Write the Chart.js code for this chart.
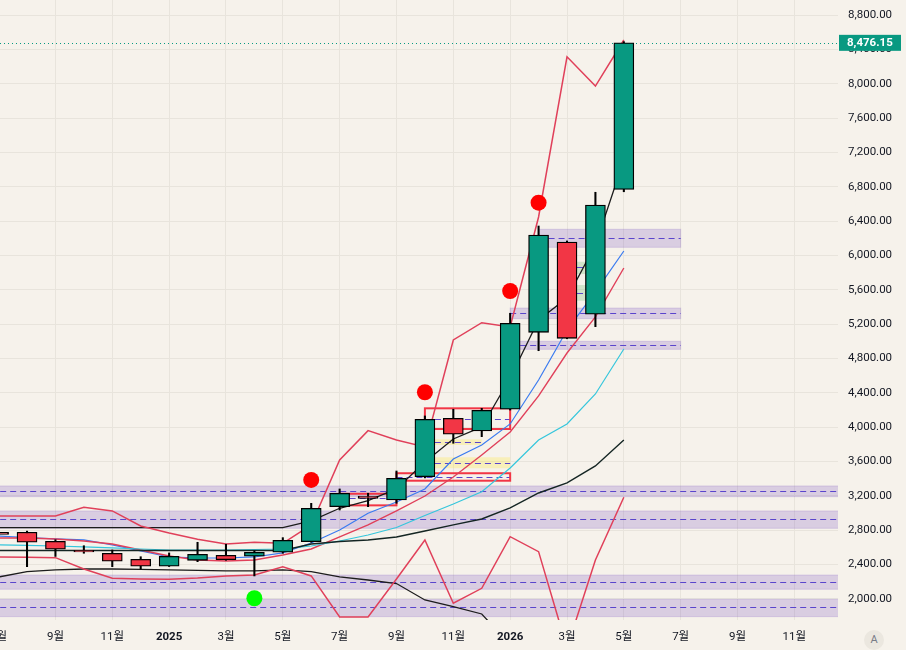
<!DOCTYPE html>
<html><head><meta charset="utf-8">
<script src="https://cdn.jsdelivr.net/npm/chart.js@4.4.1/dist/chart.umd.min.js"></script>
<style>
html,body{margin:0;padding:0;background:#f6f2eb;}
#wrap{position:relative;width:906px;height:650px;overflow:hidden;}
#autoBtn{position:absolute;left:864px;top:630px;width:20px;height:20px;border-radius:10px;background:#ebe7df;color:#787b86;font:11px Roboto, sans-serif;text-align:center;line-height:20px;}
</style></head>
<body><div id="wrap"><canvas id="c" width="906" height="650"></canvas><div id="autoBtn">A</div></div>
<script>
// month index 0 = 2024-07 ... 22 = 2026-05
const tickMonths = [0,2,4,6,8,10,12,14,16,18,20,22,24,26,28];
const tickLabels = ['7월','9월','11월','2025','3월','5월','7월','9월','11월','2026','3월','5월','7월','9월','11월'];
const yTicks = [2000,2400,2800,3200,3600,4000,4400,4800,5200,5600,6000,6400,6800,7200,7600,8000,8400,8800];

const opens  = [2777,2777,2672,2566,2532,2462,2381,2450,2509,2497,2544,2667,3075,3199,3153,3424,4104,3956,4209,5105,6157,5315,6770];
const highs  = [2880,2790,2690,2620,2570,2492,2536,2660,2637,2562,2714,3114,3281,3231,3490,4131,4209,4220,5327,6343,6169,6736,8490];
const lows   = [2730,2376,2495,2532,2376,2349,2378,2434,2450,2268,2532,2660,3036,3075,3114,3410,3813,3890,4200,4891,5030,5171,6742];
const closes = [2753,2662,2579,2548,2439,2381,2497,2520,2457,2544,2683,3056,3231,3172,3405,4092,3918,4197,5210,6238,5035,6588,8476.15];

const fastLine   = [2830,2830,2830,2830,2830,2830,2830,2830,2830,2830,2830,2910,3056,3146,3281,3595,3863,4003,4573,5249,5505,6122,7112];
const blueLine   = [2733,2716,2699,2687,2629,2559,2489,2477,2477,2489,2536,2652,2803,2998,3129,3281,3630,3793,4038,4550,5132,5575,6052];
const redMaLine  = [2710,2710,2699,2675,2640,2570,2501,2454,2442,2454,2512,2582,2722,2862,3025,3199,3420,3677,3944,4364,4864,5284,5854];
const cyanLine   = [2629,2623,2617,2606,2594,2582,2570,2570,2570,2576,2582,2617,2675,2745,2832,2972,3106,3249,3525,3851,4038,4387,4911];
const slowLine   = [2565,2565,2565,2565,2565,2565,2565,2565,2565,2565,2565,2640,2669,2687,2722,2792,2862,2931,3060,3234,3351,3549,3851];
const upperBand  = [2966,2966,2966,3068,3025,2850,2768,2695,2640,2660,2648,2862,3618,3960,3852,3770,5016,5217,5167,6448,8314,7973,8509];
const lowerBand  = [2489,2485,2481,2349,2241,2233,2229,2244,2268,2279,2376,2268,1790,1790,2233,2687,1950,2124,2725,2551,1429,2454,3184];
const bottomLine = [2256,2318,2338,2349,2349,2344,2338,2332,2326,2326,2338,2318,2256,2221,2180,1988,1910,1825,1464];

const sellMonths = [11,15,18,19];
const sellValues = [3386,4407,5586,6615];
const buyMonths  = [9];
const buyValues  = [2008];

const zoneKind = ['sr','sr','sr','sr','sr','sr','sr','box','box','box','yellow','yellow','green','green'];
const zoneFrom = [-1,-1,-1,-1,19,18,18,15,14,12,15,15,20,20];
const zoneTo   = [31,31,31,31,24,24,24,18,18,14,17,18,21,21];
const zoneLow  = [3191,2823,2113,1794,6095,5264,4907,3979,3377,3090,3793,3522,5784,5473];
const zoneHigh = [3316,3025,2279,1996,6305,5388,5001,4220,3464,3225,3859,3650,5927,5656];
const zoneMid  = [3257,2931,2198,1907,6200,5326,4954,4092,3417,3180,3824,3587,5862,5560];

const BG = '#f6f2eb';
const UP = '#089981', DOWN = '#f23645', LINE_RED = '#e0405a';
const zoneStyles = {
  sr:     {fill:'rgba(126,87,194,0.24)', stroke:'rgba(126,87,194,0.2)', lw:1},
  box:    {fill:'rgba(242,54,69,0.0)',   stroke:'#f23645', lw:2},
  yellow: {fill:'rgba(255,235,59,0.28)', stroke:null, lw:0},
  green:  {fill:'rgba(76,175,80,0.22)',  stroke:null, lw:0}
};

Chart.defaults.font.family = "Roboto, 'Noto Sans CJK KR', sans-serif";

const pts = arr => arr.map((v,i)=>({x:i,y:v}));

const bgPlugin = {
  id:'bg',
  beforeDraw(chart){ const c=chart.ctx; c.save(); c.fillStyle=BG; c.fillRect(0,0,chart.width,chart.height); c.restore(); }
};

const zonePlugin = {
  id:'zones',
  beforeDatasetsDraw(chart){
    const {ctx, chartArea:a, scales:{x,y}} = chart;
    ctx.save();
    ctx.beginPath(); ctx.rect(a.left,a.top,a.right-a.left,a.bottom-a.top); ctx.clip();
    for(let k=0;k<zoneKind.length;k++){
      const st = zoneStyles[zoneKind[k]];
      const x0 = x.getPixelForValue(zoneFrom[k]), x1 = x.getPixelForValue(zoneTo[k]);
      const y0 = y.getPixelForValue(zoneHigh[k]), y1 = y.getPixelForValue(zoneLow[k]);
      ctx.fillStyle = st.fill; ctx.fillRect(x0,y0,x1-x0,y1-y0);
      const ym = Math.round(y.getPixelForValue(zoneMid[k]))+0.5;
      ctx.setLineDash([6,4]); ctx.strokeStyle='#5a45cc'; ctx.lineWidth=1.2;
      ctx.beginPath(); ctx.moveTo(x0,ym); ctx.lineTo(x1,ym); ctx.stroke();
      ctx.setLineDash([]);
      if(st.stroke){ ctx.strokeStyle=st.stroke; ctx.lineWidth=st.lw; ctx.strokeRect(x0,y0,x1-x0,y1-y0); }
    }
    const last = closes[closes.length-1];
    const yp = Math.round(y.getPixelForValue(last))+0.5;
    ctx.setLineDash([1,3]); ctx.strokeStyle=UP; ctx.lineWidth=1;
    ctx.beginPath(); ctx.moveTo(a.left,yp); ctx.lineTo(a.right,yp); ctx.stroke();
    ctx.restore();
  },
  afterDraw(chart){
    const {ctx, chartArea:a, scales:{y}} = chart;
    const last = closes[closes.length-1];
    const yp = y.getPixelForValue(last);
    ctx.save();
    ctx.fillStyle=UP; ctx.fillRect(a.right+1, yp-8, 62, 16);
    ctx.fillStyle='#ffffff'; ctx.font="bold 11.5px Roboto, sans-serif"; ctx.textBaseline='middle'; ctx.textAlign='left';
    ctx.fillText(last.toLocaleString('en-US',{minimumFractionDigits:2,maximumFractionDigits:2}), a.right+9, yp+0.5);
    ctx.restore();
  }
};

const lineDs = (data, color, width) => ({type:'line', data:pts(data), borderColor:color, borderWidth:width, pointRadius:0, tension:0, fill:false, order:10});

const datasets = [
  lineDs(upperBand, LINE_RED, 1.5),
  lineDs(lowerBand, LINE_RED, 1.5),
  lineDs(bottomLine, '#1c1c1c', 1.3),
  lineDs(slowLine, '#142523', 1.4),
  lineDs(cyanLine, '#35c6dc', 1.2),
  lineDs(redMaLine, LINE_RED, 1.4),
  lineDs(blueLine, '#3a7bf0', 1.2),
  lineDs(fastLine, '#1c1c1c', 1.3),
  {type:'bar', grouped:false, barThickness:1.4, data:lows.map((l,i)=>({x:i,y:[l,highs[i]]})), backgroundColor:'#000', borderWidth:0, order:3},
  {type:'bar', grouped:false, barThickness:20, data:opens.map((o,i)=>({x:i,y:[o,closes[i]]})),
   backgroundColor:opens.map((o,i)=> closes[i]>=o ? UP : DOWN), borderColor:'#000', borderWidth:1.3, borderSkipped:false, order:2},
  {type:'scatter', data:sellMonths.map((m,i)=>({x:m,y:sellValues[i]})), pointRadius:8, pointBackgroundColor:'#ff0000', pointBorderWidth:0, order:0},
  {type:'scatter', data:buyMonths.map((m,i)=>({x:m,y:buyValues[i]})), pointRadius:8, pointBackgroundColor:'#00ff00', pointBorderWidth:0, order:0}
];

const pxPerMonth = 28.42;
const xMin = 1.4/pxPerMonth, xMax = xMin + 838/pxPerMonth;
const yMin = 1755, yMax = 8975;

new Chart(document.getElementById('c'), {
  type:'line',
  data:{datasets},
  options:{
    responsive:false, animation:false, events:[],
    layout:{padding:0, autoPadding:false},
    plugins:{legend:{display:false}, tooltip:{enabled:false}},
    scales:{
      x:{type:'linear', min:xMin, max:xMax, offset:false,
        grid:{color:'#e8e4dc', drawTicks:false, offset:false}, border:{display:false},
        afterBuildTicks:s=>{ s.ticks = tickMonths.map(v=>({value:v})); },
        afterFit:s=>{ s.height = 30; s.paddingLeft = 0; s.paddingRight = 0; },
        ticks:{padding:10, maxRotation:0, autoSkip:false, color:'#131722',
          font:c=>({size:11.5, weight:(c.tick && c.tick.value%12===6)?'bold':'normal'}),
          callback:v=>tickLabels[tickMonths.indexOf(v)]}
      },
      y:{type:'linear', position:'right', min:yMin, max:yMax,
        grid:{color:'#e8e4dc', drawTicks:false}, border:{display:false},
        afterBuildTicks:s=>{ s.ticks = yTicks.map(v=>({value:v})); },
        afterFit:s=>{ s.width = 68; s.paddingTop = 0; s.paddingBottom = 0; },
        ticks:{padding:10, color:'#131722', font:{size:11.5},
          callback:v=>Number(v).toLocaleString('en-US',{minimumFractionDigits:2,maximumFractionDigits:2})}
      }
    }
  },
  plugins:[bgPlugin, zonePlugin]
});
</script>
</body></html>
